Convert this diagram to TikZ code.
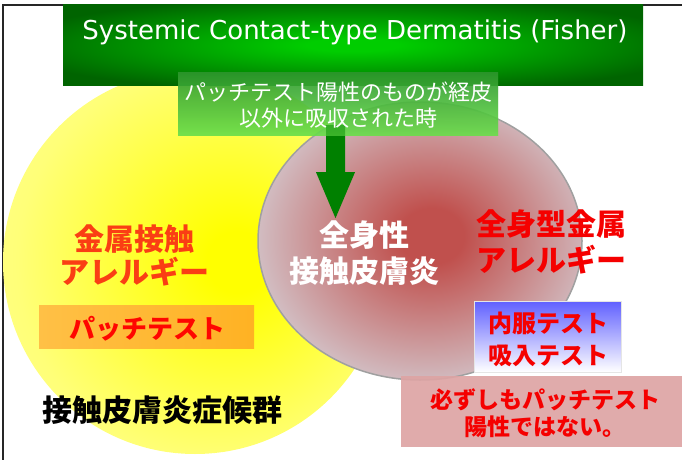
\documentclass[tikz,border=0pt]{standalone}
\usepackage{fontspec}
\setmainfont{Noto Sans CJK JP}
\newfontfamily\titlefont{DejaVu Sans}
\usepackage{xcolor}
\usetikzlibrary{shapes}

\definecolor{titleDark}{RGB}{0,100,0}
\definecolor{titleBright}{RGB}{0,205,0}
\definecolor{boxTop}{RGB}{45,150,45}
\definecolor{boxBottom}{RGB}{105,222,75}
\definecolor{arrowGreen}{RGB}{0,128,0}
\definecolor{glowYellow}{RGB}{255,255,0}
\definecolor{midYellow}{RGB}{255,255,120}
\definecolor{paleYellow}{RGB}{255,255,170}
\definecolor{coreRed}{RGB}{192,80,77}
\definecolor{ringGray}{RGB}{212,204,210}
\definecolor{ringEdge}{RGB}{160,160,160}
\definecolor{patchLeft}{RGB}{255,192,70}
\definecolor{patchRight}{RGB}{255,178,35}
\definecolor{testBlue}{RGB}{96,96,255}
\definecolor{notePink}{RGB}{221,164,164}
\definecolor{allergyOrange}{RGB}{250,62,20}
\definecolor{alertRed}{RGB}{245,0,0}

\pgfdeclareradialshading{titleglow}{\pgfpoint{0bp}{0bp}}{color(0bp)=(titleBright); color(4bp)=(titleBright); color(30bp)=(titleDark); color(50bp)=(titleDark)}
\pgfdeclareradialshading{yellowglow}{\pgfpoint{6bp}{0bp}}{color(0bp)=(glowYellow); color(4bp)=(glowYellow); color(26bp)=(midYellow); color(46bp)=(paleYellow); color(50bp)=(paleYellow)}
\pgfdeclareradialshading{redcore}{\pgfpoint{2bp}{1bp}}{color(0bp)=(coreRed); color(5bp)=(coreRed); color(29bp)=(ringGray); color(50bp)=(ringGray)}

\begin{document}
\begin{tikzpicture}[x=1pt,y=-1pt,
    every node/.style={inner sep=0pt, align=center}]
                \useasboundingbox (0,0) rectangle (682,460);
                % frame
                \draw[black!85, line width=1.2] (3,460) -- (3,5) -- (682,5);

                % contact dermatitis syndrome (yellow)
                \shade[shading=yellowglow] (195,262) circle (192);
                % systemic contact dermatitis (grey with red core)
                \shade[shading=redcore] (420,241) ellipse [x radius=162, y radius=139];
                \draw[ringEdge, line width=1.5] (420,241) ellipse [x radius=162, y radius=139];

                % boxes
                \node[shade, shading=titleglow, minimum width=580, minimum height=80] (title) at (353,45) {};
                \node[top color=boxTop, bottom color=boxBottom, fill opacity=0.8, minimum width=320, minimum height=63] (absorb) at (338,103.5) {};
                \node[left color=patchLeft, right color=patchRight, minimum width=215, minimum height=43] (patch) at (146.5,326.5) {};
                \node[top color=testBlue, bottom color=white, draw=black!10, minimum width=147, minimum height=71] (oral) at (547.5,336.5) {};
                \node[fill=notePink, fill opacity=0.92, minimum width=281, minimum height=71] (note) at (541.5,411.5) {};

                % block arrow from the box down into the grey circle
                \fill[arrowGreen] ([shift={(-12,-10)}]absorb.south) -- ([shift={(7,-10)}]absorb.south)
                    -- ([shift={(7,37)}]absorb.south) -- ([shift={(17,37)}]absorb.south)
                    -- ([shift={(-2.5,83)}]absorb.south) -- ([shift={(-22,37)}]absorb.south)
                    -- ([shift={(-12,37)}]absorb.south) -- cycle;
                % box again, over the top of the arrow
                \node[top color=boxTop, bottom color=boxBottom, fill opacity=0.55, minimum width=320, minimum height=63] (absorbtop) at (absorb) {};

                % labels
                \node[font={\titlefont\fontsize{26}{30}\selectfont}, text=white] (titletext) at (355,32)
                    {Systemic Contact-type Dermatitis (Fisher)};
                \node[font={\fontsize{22}{26}\selectfont}, text=white] (absorbtext) at (338,105)
                    {パッチテスト陽性のものが経皮\\以外に吸収された時};
                \node[font={\fontsize{30}{33}\selectfont\bfseries}, text=allergyOrange] (metalcontact) at (134,255)
                    {金属接触\\アレルギー};
                \node[font={\fontsize{26}{30}\selectfont\bfseries}, text=red!95!orange] (patchtext) at (147,329)
                    {パッチテスト};
                \node[font={\fontsize{30}{33}\selectfont\bfseries}, text=black] (syndrome) at (162,410)
                    {接触皮膚炎症候群};
                \node[font={\fontsize{30}{36}\selectfont\bfseries}, text=white] (systemic) at (364,253)
                    {全身性\\接触皮膚炎};
                \node[font={\fontsize{30}{36}\selectfont\bfseries}, text=alertRed] (metalsystemic) at (551,242)
                    {全身型金属\\アレルギー};
                \node[font={\fontsize{24}{32}\selectfont\bfseries}, text=alertRed] (oraltext) at (548,339)
                    {内服テスト\\吸入テスト};
                \node[font={\fontsize{23}{27}\selectfont\bfseries}, text=alertRed] (notetext) at (545,413.5)
                    {必ずしもパッチテスト\\陽性ではない。};
\end{tikzpicture}
\end{document}
